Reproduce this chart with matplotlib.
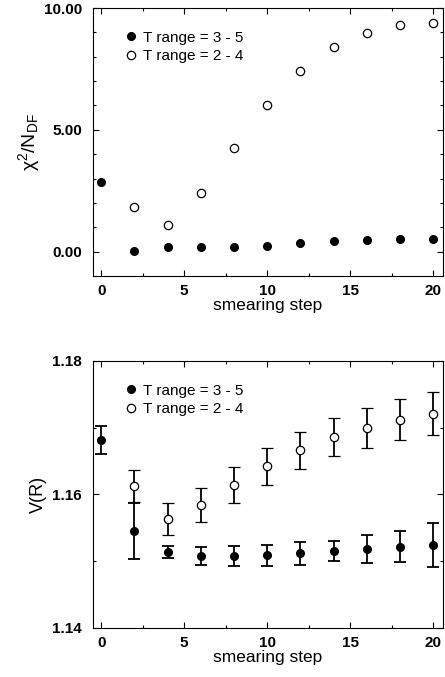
import numpy as np
import matplotlib
matplotlib.use('Agg')
import matplotlib.pyplot as plt
from matplotlib.lines import Line2D
from matplotlib.ticker import MultipleLocator, FormatStrFormatter

plt.rcParams['font.family'] = ['Liberation Sans', 'DejaVu Sans']
plt.rcParams['mathtext.fontset'] = 'custom'
plt.rcParams['mathtext.rm'] = 'Liberation Sans'
plt.rcParams['mathtext.it'] = 'Liberation Sans:italic'

# smearing steps
steps = [0, 2, 4, 6, 8, 10, 12, 14, 16, 18, 20]
steps_open = [2, 4, 6, 8, 10, 12, 14, 16, 18, 20]

# chi^2 / N_DF
chi_35 = [2.84, 0.02, 0.18, 0.20, 0.20, 0.25, 0.34, 0.44, 0.48, 0.50, 0.53]
chi_24 = [1.84, 1.08, 2.42, 4.26, 6.00, 7.40, 8.38, 8.99, 9.30, 9.38]

# V(R) with errors
v_35 = [1.1681, 1.1546, 1.1514, 1.1508, 1.1508, 1.1509, 1.1512, 1.1515, 1.1518, 1.1522, 1.1525]
e_35 = [0.0021, 0.0042, 0.0009, 0.0014, 0.0015, 0.0016, 0.0017, 0.0015, 0.0021, 0.0023, 0.0033]
v_24 = [1.1613, 1.1564, 1.1584, 1.1614, 1.1642, 1.1666, 1.1686, 1.1700, 1.1712, 1.1721]
e_24 = [0.0024, 0.0024, 0.0025, 0.0027, 0.0028, 0.0028, 0.0029, 0.0030, 0.0031, 0.0032]

labels = ['T range = 3 - 5', 'T range = 2 - 4']

fig = plt.figure(figsize=(4.45, 6.77), dpi=100)
W, H = 445, 677
ax1 = fig.add_axes([93 / W, 1 - 276 / H, 350 / W, 268 / H])
ax2 = fig.add_axes([93 / W, 1 - 628 / H, 350 / W, 267 / H])


def style(ax):
    ax.tick_params(which='both', direction='in', top=True, right=True,
                   labelsize=11, width=0.8)
    ax.tick_params(which='major', length=4)
    ax.tick_params(which='minor', length=2.5)
    ax.tick_params(axis='y', pad=8)
    ax.tick_params(axis='x', pad=6)
    for lab in ax.get_xticklabels() + ax.get_yticklabels():
        lab.set_fontweight('bold')
    ax.set_xlim(-0.5, 20.6)
    ax.xaxis.set_major_locator(MultipleLocator(5))
    ax.xaxis.set_minor_locator(MultipleLocator(2.5))
    ax.set_xlabel('smearing step', fontsize=12.5, labelpad=0)
    handles = [Line2D([], [], ls='none', marker='o', color='black', ms=5.5),
               Line2D([], [], ls='none', marker='o', mfc='white', mec='black',
                      mew=0.9, ms=6)]
    ax.legend(handles, labels, loc='upper left', bbox_to_anchor=(0.06, 0.95),
              frameon=False, fontsize=11, handletextpad=0.3,
              labelspacing=0.3, borderaxespad=0.2, handlelength=1.0)


ax1.plot(steps, chi_35, 'o', color='black', ms=5.5)
ax1.plot(steps_open, chi_24, 'o', mfc='white', mec='black', mew=0.9, ms=6)
ax1.set_ylim(-1.0, 10.0)
ax1.yaxis.set_major_locator(MultipleLocator(5))
ax1.yaxis.set_minor_locator(MultipleLocator(1))
ax1.yaxis.set_major_formatter(FormatStrFormatter('%.2f'))
ax1.set_ylabel('χ$^2$/N$_{\\rm DF}$', fontsize=14, labelpad=1)
style(ax1)

ax2.errorbar(steps, v_35, yerr=e_35, fmt='o', color='black', ms=5.5,
             capsize=4.5, elinewidth=1.3, capthick=1.3)
ax2.errorbar(steps_open, v_24, yerr=e_24, fmt='o', mfc='white', mec='black',
             ecolor='black', mew=0.9, ms=6, capsize=4.5, elinewidth=1.3,
             capthick=1.3)
ax2.set_ylim(1.14, 1.18)
ax2.yaxis.set_major_locator(MultipleLocator(0.02))
ax2.yaxis.set_minor_locator(MultipleLocator(0.01))
ax2.yaxis.set_major_formatter(FormatStrFormatter('%.2f'))
ax2.set_ylabel('V(R)', fontsize=13, labelpad=4)
style(ax2)

fig.savefig('out.png', dpi=100)
